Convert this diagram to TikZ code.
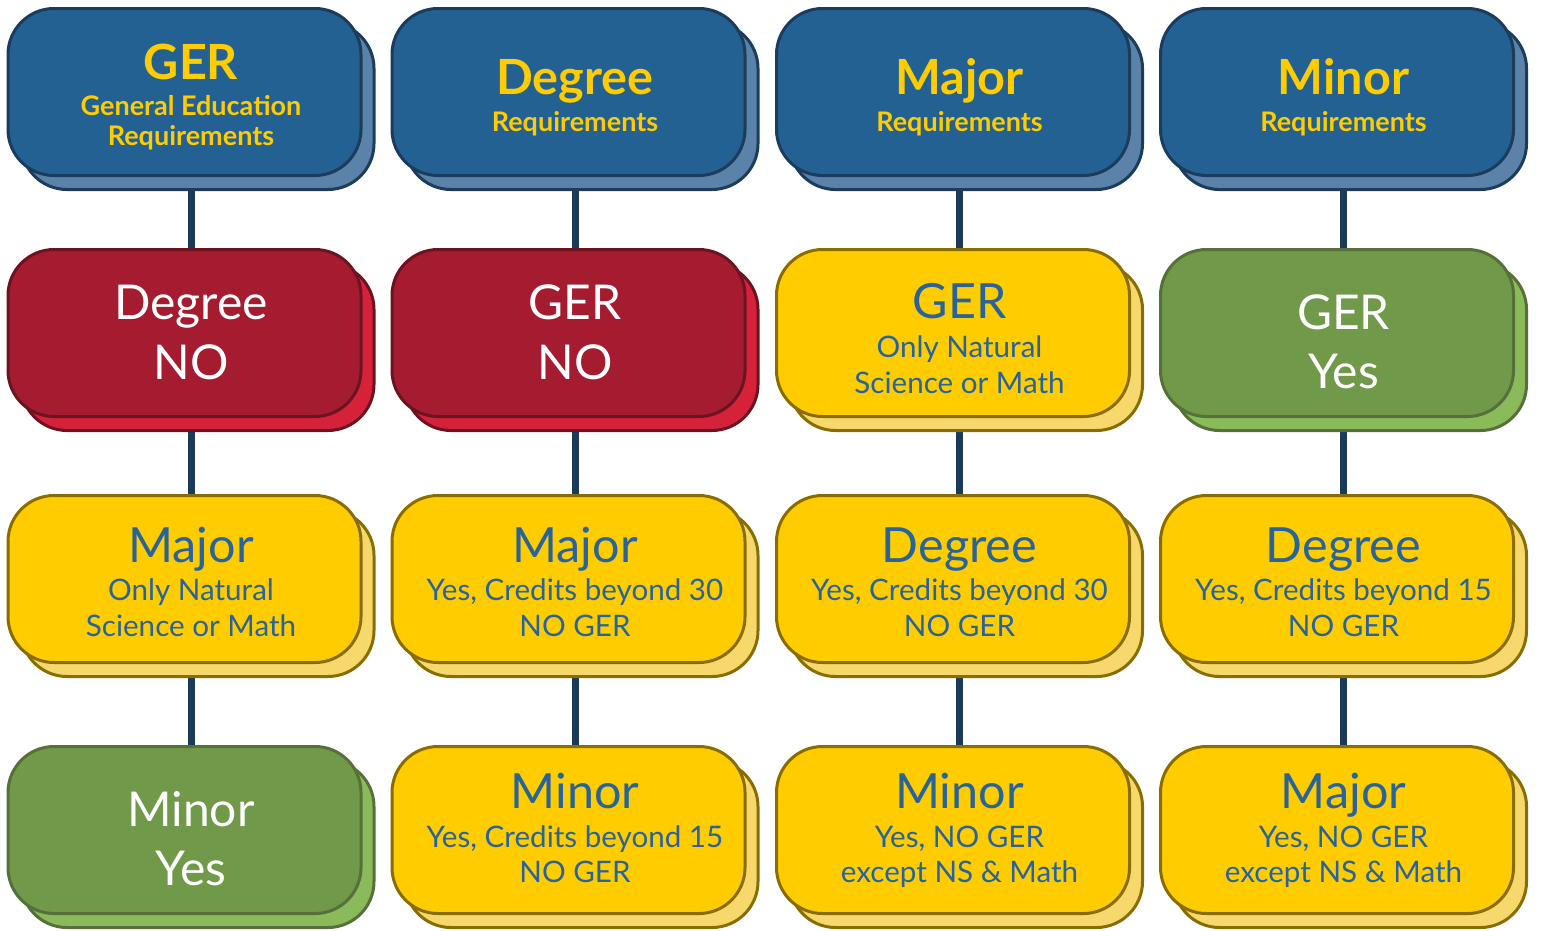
\documentclass[tikz,border=0pt]{standalone}
\usepackage{fontspec}
\setmainfont{Lato}
\usetikzlibrary{shadows,backgrounds,calc}
\definecolor{hdrfill}{HTML}{236192}
\definecolor{hdrback}{HTML}{5B83AA}
\definecolor{hdrline}{HTML}{1B3C5C}
\definecolor{redfill}{HTML}{A51B30}
\definecolor{redback}{HTML}{D6213B}
\definecolor{redline}{HTML}{6C1320}
\definecolor{yelfill}{HTML}{FFCC00}
\definecolor{yelback}{HTML}{F6D86C}
\definecolor{yelline}{HTML}{8A6D00}
\definecolor{grnfill}{HTML}{71994A}
\definecolor{grnback}{HTML}{8ABA59}
\definecolor{grnline}{HTML}{56703A}
\definecolor{txtblue}{HTML}{28639A}
\definecolor{gold}{HTML}{FFCC00}
\definecolor{connc}{HTML}{1C3B5A}
\newcommand\fHdr{\fontsize{48.5pt}{48.5pt}\bfseries\selectfont}
\newcommand\fHsub{\fontsize{27pt}{27pt}\bfseries\selectfont}
\newcommand\fBig{\fontsize{48pt}{48pt}\selectfont}
\newcommand\fTtl{\fontsize{48.5pt}{48.5pt}\selectfont}
\newcommand\fSub{\fontsize{29.6pt}{29.6pt}\selectfont}
\newcommand\tline[6]{\node[anchor=base,inner sep=0pt,text=#4,font=#5] (#1) at (#2,#3) {#6};}
\tikzset{
  card/.style={rounded corners=46pt, minimum width=353pt, minimum height=167pt,
    inner sep=0pt, outer sep=0pt, line width=3pt},
  hdrcard/.style={card, fill=hdrfill, draw=hdrline,
    copy shadow={shadow xshift=13pt, shadow yshift=-14pt, fill=hdrback, draw=hdrline, line width=3pt}},
  redcard/.style={card, fill=redfill, draw=redline,
    copy shadow={shadow xshift=13pt, shadow yshift=-14pt, fill=redback, draw=redline, line width=3pt}},
  yelcard/.style={card, fill=yelfill, draw=yelline,
    copy shadow={shadow xshift=13pt, shadow yshift=-14pt, fill=yelback, draw=yelline, line width=3pt}},
  grncard/.style={card, fill=grnfill, draw=grnline,
    copy shadow={shadow xshift=13pt, shadow yshift=-14pt, fill=grnback, draw=grnline, line width=3pt}},
  conn/.style={draw=connc, line width=7pt}
}
\begin{document}
\begin{tikzpicture}[x=1pt,y=-1pt]
\useasboundingbox (0,0) rectangle (1541,930);
% boxes: centre x = cx-6.5
\node[hdrcard] (h1) at (184.5,92) {};
\node[hdrcard] (h2) at (568.5,92) {};
\node[hdrcard] (h3) at (953,92) {};
\node[hdrcard] (h4) at (1337,92) {};
\node[redcard] (b21) at (184.5,333) {};
\node[redcard] (b22) at (568.5,333) {};
\node[yelcard] (b23) at (953,333) {};
\node[grncard] (b24) at (1337,333) {};
\node[yelcard] (b31) at (184.5,579) {};
\node[yelcard] (b32) at (568.5,579) {};
\node[yelcard] (b33) at (953,579) {};
\node[yelcard] (b34) at (1337,579) {};
\node[grncard] (b41) at (184.5,830) {};
\node[yelcard] (b42) at (568.5,830) {};
\node[yelcard] (b43) at (953,830) {};
\node[yelcard] (b44) at (1337,830) {};
\begin{pgfonlayer}{background}
\foreach \c in {1,2,3,4}{
  \draw[conn] ($(h\c.south)+(6.5,0)$) -- ($(b2\c.north)+(6.5,0)$);
  \draw[conn] ($(b2\c.south)+(6.5,0)$) -- ($(b3\c.north)+(6.5,0)$);
  \draw[conn] ($(b3\c.south)+(6.5,0)$) -- ($(b4\c.north)+(6.5,0)$);
}
\end{pgfonlayer}
% header texts
\tline{t11}{191}{79}{gold}{\fHdr}{GER}
\tline{t12}{191}{115}{gold}{\fHsub}{General Education}
\tline{t13}{191}{145}{gold}{\fHsub}{Requirements}
\tline{t21}{575}{94}{gold}{\fHdr}{Degree}
\tline{t22}{575}{131}{gold}{\fHsub}{Requirements}
\tline{t31}{959.5}{94}{gold}{\fHdr}{Major}
\tline{t32}{959.5}{131}{gold}{\fHsub}{Requirements}
\tline{t41}{1343.5}{94}{gold}{\fHdr}{Minor}
\tline{t42}{1343.5}{131}{gold}{\fHsub}{Requirements}
% row 2
\tline{u11}{191}{319}{white}{\fBig}{Degree}
\tline{u12}{191}{379}{white}{\fBig}{NO}
\tline{u21}{575}{319}{white}{\fBig}{GER}
\tline{u22}{575}{379}{white}{\fBig}{NO}
\tline{u31}{959.5}{318}{txtblue}{\fTtl}{GER}
\tline{u32}{959.5}{357}{txtblue}{\fSub}{Only Natural}
\tline{u33}{959.5}{393}{txtblue}{\fSub}{Science or Math}
\tline{u41}{1343.5}{329}{white}{\fBig}{GER}
\tline{u42}{1343.5}{388}{white}{\fBig}{Yes}
% row 3
\tline{v11}{191}{562}{txtblue}{\fTtl}{Major}
\tline{v12}{191}{600}{txtblue}{\fSub}{Only Natural}
\tline{v13}{191}{636}{txtblue}{\fSub}{Science or Math}
\tline{v21}{575}{562}{txtblue}{\fTtl}{Major}
\tline{v22}{575}{600}{txtblue}{\fSub}{Yes, Credits beyond 30}
\tline{v23}{575}{636}{txtblue}{\fSub}{NO GER}
\tline{v31}{959.5}{562}{txtblue}{\fTtl}{Degree}
\tline{v32}{959.5}{600}{txtblue}{\fSub}{Yes, Credits beyond 30}
\tline{v33}{959.5}{636}{txtblue}{\fSub}{NO GER}
\tline{v41}{1343.5}{562}{txtblue}{\fTtl}{Degree}
\tline{v42}{1343.5}{600}{txtblue}{\fSub}{Yes, Credits beyond 15}
\tline{v43}{1343.5}{636}{txtblue}{\fSub}{NO GER}
% row 4
\tline{w11}{191}{826}{white}{\fBig}{Minor}
\tline{w12}{191}{885}{white}{\fBig}{Yes}
\tline{w21}{575}{808}{txtblue}{\fTtl}{Minor}
\tline{w22}{575}{847}{txtblue}{\fSub}{Yes, Credits beyond 15}
\tline{w23}{575}{882}{txtblue}{\fSub}{NO GER}
\tline{w31}{959.5}{808}{txtblue}{\fTtl}{Minor}
\tline{w32}{959.5}{847}{txtblue}{\fSub}{Yes, NO GER}
\tline{w33}{959.5}{882}{txtblue}{\fSub}{except NS \& Math}
\tline{w41}{1343.5}{808}{txtblue}{\fTtl}{Major}
\tline{w42}{1343.5}{847}{txtblue}{\fSub}{Yes, NO GER}
\tline{w43}{1343.5}{882}{txtblue}{\fSub}{except NS \& Math}
\end{tikzpicture}
\end{document}
